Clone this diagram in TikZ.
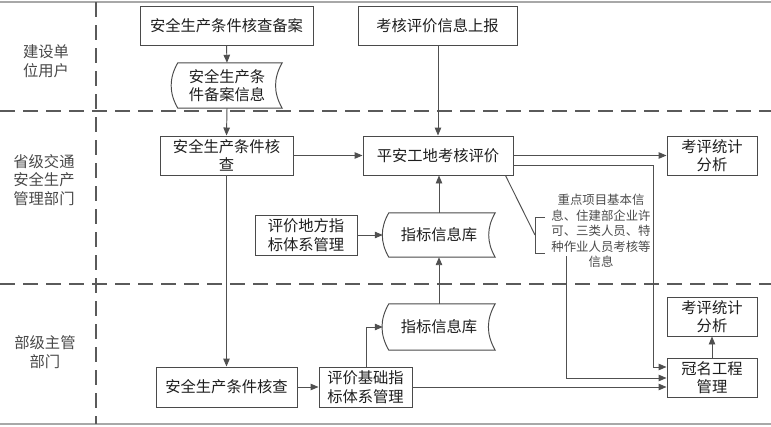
\documentclass[tikz,border=0pt]{standalone}
\usepackage{fontspec}
\newfontfamily\cjk{Noto Sans CJK SC}
\usetikzlibrary{arrows.meta,calc}
\definecolor{boxc}{HTML}{4A4A4A}
\definecolor{linec}{HTML}{505050}
\definecolor{txtc}{HTML}{1E1E1E}
\definecolor{lanec}{HTML}{5A5A5A}
\definecolor{borderc}{HTML}{A8A8A8}
\newcommand\mystored[1]{\draw[boxline] ($(#1.north west)+(6,0)$) to[bend right=30] ($(#1.south west)+(6,0)$) -- (#1.south east) to[bend left=30] (#1.north east) -- cycle;}
\begin{document}
\begin{tikzpicture}[x=1pt,y=-1pt,
  every node/.style={font=\cjk\fontsize{15.3}{18.5}\selectfont, text=txtc, inner sep=0pt},
  boxline/.style={draw=boxc, line width=0.95pt},
  box/.style={boxline, fill=white, align=center},
  stored/.style={align=center},
  lanelabel/.style={align=center, text=lanec!80!black},
  notetext/.style={font=\cjk\fontsize{12.4}{15.5}\selectfont, align=center, text=txtc!80},
  conn/.style={draw=linec, line width=0.95pt, -{Triangle[length=8pt,width=6.5pt]}},
  plain/.style={draw=linec, line width=0.95pt},
  lane/.style={draw=lanec, line width=1.4pt, dash pattern=on 15pt off 8pt},
  border/.style={draw=borderc, line width=2pt}
]
\useasboundingbox (0,0) rectangle (771,426);
% frame and lanes
\draw[border] (0,2) -- (771,2);
\draw[border] (0,424) -- (771,424);
\draw[lane] (0,111) -- (771,111);
\draw[lane] (0,284) -- (771,284);
\draw[lane] (96,2) -- (96,424);
% lane labels
\node[lanelabel] (l1) at (46,61) {建设单\\位用户};
\node[lanelabel] (l2) at (44,180) {省级交通\\安全生产\\管理部门};
\node[lanelabel] (l3) at (45,352) {部级主管\\部门};
% boxes
\node[box, minimum width=173, minimum height=39] (bak) at (226.5,25.5) {安全生产条件核查备案};
\node[box, minimum width=159, minimum height=39] (report) at (437.5,25.5) {考核评价信息上报};
\node[stored, minimum width=110, minimum height=45] (tape1) at (227,85.5) {安全生产条\\件备案信息};
\node[box, minimum width=133, minimum height=39] (pcheck) at (226.5,155.5) {安全生产条件核\\查};
\node[box, minimum width=150, minimum height=39] (eval) at (438,155.5) {平安工地考核评价};
\node[box, minimum width=90, minimum height=39] (stat1) at (712,155.5) {考评统计\\分析};
\node[box, minimum width=102, minimum height=40] (local) at (306,235) {评价地方指\\标体系管理};
\node[stored, minimum width=112, minimum height=44] (tape2) at (439,235) {指标信息库};
\node[notetext] (note) at (601,231) {重点项目基本信\\息、住建部企业许\\可、三类人员、特\\种作业人员考核等\\信息};
\node[box, minimum width=90, minimum height=39] (stat2) at (712,316.5) {考评统计\\分析};
\node[stored, minimum width=112, minimum height=46] (tape3) at (439,327) {指标信息库};
\node[box, minimum width=141, minimum height=40] (ncheck) at (226.5,387) {安全生产条件核查};
\node[box, minimum width=93, minimum height=40] (base) at (365.5,387) {评价基础指\\标体系管理};
\node[box, minimum width=90, minimum height=39] (guan) at (712,377.5) {冠名工程\\管理};
\mystored{tape1}
\mystored{tape2}
\mystored{tape3}
% connectors
\draw[conn] (bak.south) -- (tape1.north);
\draw[conn] (tape1.south) -- (pcheck.north);
\draw[conn] (report.south -| eval.north) -- (eval.north);
\draw[conn] (pcheck.east) -- (eval.west);
\draw[conn] (pcheck.south) -- (ncheck.north);
\draw[conn] (eval.east) -- (stat1.west);
\draw[conn] (local.east) -- (tape2.west);
\draw[conn] (tape2.north) -- (tape2.north |- eval.south);
\draw[conn] (tape3.north) -- (tape2.south);
\draw[conn] (ncheck.east) -- (base.west);
\draw[conn] ($(base.north)+(0.5,0)$) |- (tape3.west);
\draw[conn] (guan.north) -- (stat2.south);
\draw[conn] ($(eval.east)+(0,9.5)$) -| (653,367) -- ($(guan.west)+(0,-10.5)$);
\coordinate (nt) at (566,256);
\draw[conn] (nt) |- ($(guan.west)+(0,0.5)$);
\draw[conn] (base.east) -- ($(guan.west)+(0,9.5)$);
% annotation
\coordinate (brk) at (535,235);
\draw[plain] ($(eval.south east)+(-8,0)$) -- (brk);
\draw[plain] (545,217) -- (535,217) -- (535,253) -- (545,253);
\end{tikzpicture}
\end{document}
